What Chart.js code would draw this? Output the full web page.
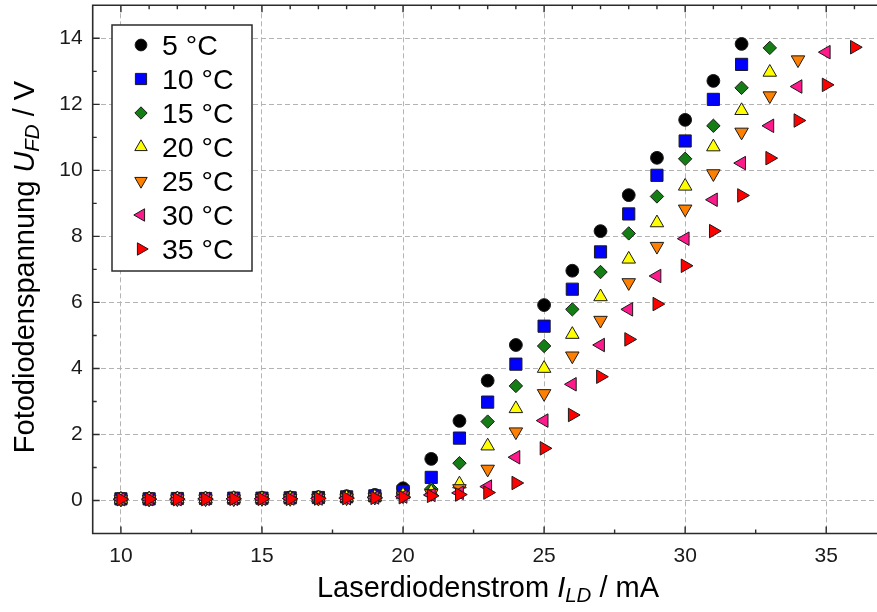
<!DOCTYPE html>
<html>
<head>
<meta charset="utf-8">
<script src="https://cdn.jsdelivr.net/npm/chart.js@4.4.1/dist/chart.umd.min.js"></script>
<style>
html,body{margin:0;padding:0;background:#fff;}
canvas{display:block;}
</style>
</head>
<body>
<canvas id="c" width="877" height="612"></canvas>
<script>
// ---- data ----
const current = [10,11,12,13,14,15,16,17,18,19,20,21,22,23,24,25,26,27,28,29,30,31,32,33,34,35,36];
const seriesLabels = ['5 °C','10 °C','15 °C','20 °C','25 °C','30 °C','35 °C'];
const u5  = [0.05,0.05,0.06,0.06,0.07,0.08,0.09,0.10,0.13,0.17,0.37,1.26,2.41,3.63,4.71,5.92,6.96,8.16,9.25,10.38,11.53,12.71,13.83];
const u10 = [0.05,0.05,0.06,0.06,0.07,0.07,0.08,0.09,0.11,0.14,0.28,0.70,1.89,2.98,4.13,5.28,6.40,7.53,8.68,9.85,10.89,12.15,13.21];
const u15 = [0.05,0.05,0.05,0.06,0.06,0.07,0.07,0.08,0.10,0.12,0.20,0.35,1.13,2.39,3.47,4.68,5.79,6.92,8.09,9.21,10.35,11.35,12.50,13.71];
const u20 = [0.04,0.05,0.05,0.05,0.06,0.06,0.07,0.08,0.09,0.11,0.17,0.26,0.50,1.65,2.78,4.00,5.03,6.17,7.31,8.41,9.52,10.71,11.81,12.97];
const u25 = [0.04,0.04,0.05,0.05,0.05,0.06,0.06,0.07,0.08,0.10,0.14,0.21,0.36,0.95,2.08,3.24,4.38,5.46,6.60,7.70,8.83,9.90,11.16,12.26,13.35];
const u30 = [0.04,0.04,0.04,0.05,0.05,0.05,0.06,0.06,0.07,0.09,0.12,0.17,0.23,0.42,1.31,2.42,3.52,4.71,5.79,6.80,7.93,9.11,10.22,11.35,12.54,13.58];
const u35 = [0.04,0.04,0.04,0.04,0.05,0.05,0.05,0.06,0.07,0.08,0.10,0.14,0.18,0.24,0.53,1.58,2.59,3.75,4.88,5.95,7.11,8.16,9.24,10.37,11.51,12.59,13.73];
const xTickValues = [10,15,20,25,30,35];
const yTickValues = [0,2,4,6,8,10,12,14];

// ---- styles ----
const FONT = "'Liberation Sans', Arial, Helvetica, sans-serif";
const allSeries = [u5,u10,u15,u20,u25,u30,u35];
const fills   = ['#000000','#0000ff','#147d14','#ffff00','#ff8000','#ff1a8c','#ff0000'];
const shapes  = ['circle','rect','rectRot','triangle','triangle','triangle','triangle'];
const rots    = [0,0,0,0,180,270,90];
const radii   = [6.4,8.6,6.7,7.8,7.8,7.8,7.8];

const datasets = allSeries.map((vals,i)=>({
  label: seriesLabels[i],
  data: vals.map((v,k)=>({x: current[k], y: v})),
  pointStyle: shapes[i],
  pointRotation: rots[i],
  pointRadius: radii[i],
  pointHoverRadius: radii[i],
  backgroundColor: fills[i],
  borderColor: '#1a1a1a',
  borderWidth: 1,
  showLine: false,
  order: 6 - i
}));

function drawMarker(ctx, style, x, y, r, rotDeg){
  const rad = rotDeg*Math.PI/180;
  ctx.beginPath();
  if(style==='circle'){ ctx.arc(x,y,r,0,Math.PI*2); }
  else if(style==='rect'){ const s=Math.SQRT1_2*r; ctx.rect(x-s,y-s,2*s,2*s); }
  else if(style==='rectRot'){ ctx.moveTo(x,y-r); ctx.lineTo(x+r,y); ctx.lineTo(x,y+r); ctx.lineTo(x-r,y); ctx.closePath(); }
  else if(style==='triangle'){
    let a=rad;
    ctx.moveTo(x+Math.sin(a)*r, y-Math.cos(a)*r);
    a+=2*Math.PI/3; ctx.lineTo(x+Math.sin(a)*r, y-Math.cos(a)*r);
    a+=2*Math.PI/3; ctx.lineTo(x+Math.sin(a)*r, y-Math.cos(a)*r);
    ctx.closePath();
  }
  ctx.fill(); ctx.stroke();
}

function drawRich(ctx, parts, x, y){
  let total=0;
  parts.forEach(p=>{ ctx.font=p.f; p.w=ctx.measureText(p.t).width; total+=p.w; });
  let cx = x - total/2;
  ctx.textAlign='left'; ctx.textBaseline='alphabetic';
  parts.forEach(p=>{ ctx.font=p.f; ctx.fillText(p.t, cx, y + (p.dy||0)); cx+=p.w; });
}

const framePlugin = {
  id:'frame',
  afterDatasetsDraw(chart){
    const {ctx, chartArea:a, scales:{x:xs, y:ys}} = chart;
    ctx.save();
    ctx.strokeStyle='#2b2b2b'; ctx.lineWidth=1.6;
    ctx.beginPath();
    ctx.moveTo(a.right+2,a.top); ctx.lineTo(a.left,a.top); ctx.lineTo(a.left,a.bottom); ctx.lineTo(a.right+2,a.bottom);
    ctx.stroke();
    ctx.lineWidth=1.4;
    ctx.beginPath();
    for(let v=10; v<=xs.max; v+=2.5){
      const px=xs.getPixelForValue(v); const L=(v%5===0)?7:4;
      ctx.moveTo(px,a.bottom); ctx.lineTo(px,a.bottom-L);
    }
    for(let v=10; v<=xs.max; v+=1){
      const px=xs.getPixelForValue(v); const L=(v%5===0)?7:4;
      ctx.moveTo(px,a.top); ctx.lineTo(px,a.top+L);
    }
    for(let v=0; v<=14; v+=1){
      const py=ys.getPixelForValue(v); const L=(v%2===0)?7:4;
      ctx.moveTo(a.left,py); ctx.lineTo(a.left+L,py);
    }
    ctx.stroke();
    ctx.restore();
  },
  afterDraw(chart){
    const {ctx} = chart;
    ctx.save();
    ctx.fillStyle='#000';
    drawRich(ctx,[
      {t:'Laserdiodenstrom ', f:`29px ${FONT}`},
      {t:'I', f:`italic 29px ${FONT}`},
      {t:'LD', f:`italic 20.5px ${FONT}`, dy:5},
      {t:' / mA', f:`29px ${FONT}`}
    ], 488, 597);
    ctx.save();
    ctx.translate(34, 267);
    ctx.rotate(-Math.PI/2);
    drawRich(ctx,[
      {t:'Fotodiodenspannung ', f:`29px ${FONT}`},
      {t:'U', f:`italic 29px ${FONT}`},
      {t:'FD', f:`italic 20.5px ${FONT}`, dy:5},
      {t:' / V', f:`29px ${FONT}`}
    ], 0, 0);
    ctx.restore();
    // legend
    const bx=112, by=25, bw=140, bh=246;
    ctx.fillStyle='#fff'; ctx.fillRect(bx,by,bw,bh);
    ctx.strokeStyle='#2b2b2b'; ctx.lineWidth=1.5; ctx.strokeRect(bx,by,bw,bh);
    for(let i=0;i<seriesLabels.length;i++){
      const cy = 45 + i*34;
      ctx.fillStyle=fills[i]; ctx.strokeStyle='#1a1a1a'; ctx.lineWidth=1;
      drawMarker(ctx, shapes[i], 141, cy, radii[i]*0.92, rots[i]);
      ctx.fillStyle='#000'; ctx.font=`28.5px ${FONT}`; ctx.textAlign='left'; ctx.textBaseline='alphabetic';
      ctx.fillText(seriesLabels[i], 162, cy+10.3);
    }
    ctx.restore();
  }
};

new Chart(document.getElementById('c'), {
  type:'scatter',
  data:{datasets},
  plugins:[framePlugin],
  options:{
    responsive:false,
    animation:false,
    devicePixelRatio:1,
    layout:{autoPadding:false, padding:{left:0,right:0,top:5.3,bottom:0}},
    plugins:{legend:{display:false}, tooltip:{enabled:false}, title:{display:false}},
    scales:{
      x:{
        type:'linear', min:9, max:36.8,
        afterBuildTicks:s=>{ s.ticks = xTickValues.map(v=>({value:v})); },
        afterFit:s=>{ s.height = 78.5; s.paddingLeft=0; s.paddingRight=0; },
        ticks:{ font:{family:FONT,size:21}, color:'#1a1a1a', padding:10, maxRotation:0, autoSkip:false },
        grid:{ color:'#b4b4b4', lineWidth:1, drawTicks:false },
        border:{ display:false, dash:[5,3] }
      },
      y:{
        type:'linear', min:-1, max:15,
        afterBuildTicks:s=>{ s.ticks = yTickValues.map(v=>({value:v})); },
        afterFit:s=>{ s.width = 92.7; s.paddingTop=0; s.paddingBottom=0; },
        ticks:{ font:{family:FONT,size:21}, color:'#1a1a1a', padding:10, autoSkip:false },
        grid:{ color:'#b4b4b4', lineWidth:1, drawTicks:false },
        border:{ display:false, dash:[5,3] }
      }
    }
  }
});
</script>
</body>
</html>
